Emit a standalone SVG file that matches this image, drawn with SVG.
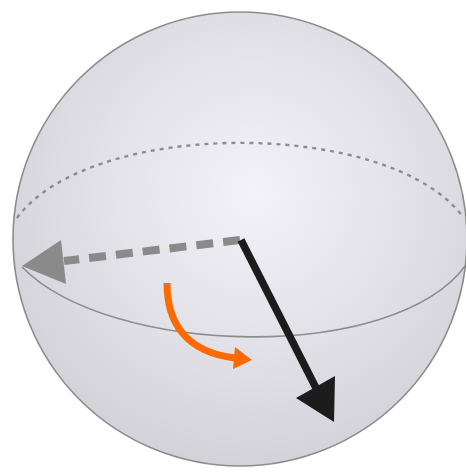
<svg xmlns="http://www.w3.org/2000/svg" width="466" height="474" viewBox="0 0 466 474">
  <defs>
    <radialGradient id="sphereFill" cx="0.53" cy="0.4" r="0.62">
      <stop offset="0" stop-color="#f3f2f8"/>
      <stop offset="0.55" stop-color="#e2e1e8"/>
      <stop offset="1" stop-color="#d2d1d8"/>
    </radialGradient>
  </defs>
  <style>
    .outline { fill: none; stroke: #8c8c8c; stroke-width: 1.6; }
    .back { fill: none; stroke: #8c8c8c; stroke-width: 2.4; stroke-dasharray: 4 5; }
    .grayShaft { fill: none; stroke: #8a8a8a; stroke-width: 8; stroke-dasharray: 17 10; }
    .grayHead { fill: #8a8a8a; }
    .blackShaft { fill: none; stroke: #1c1c1c; stroke-width: 7.5; }
    .blackHead { fill: #1c1c1c; }
    .orangeShaft { fill: none; stroke: #ff6a00; stroke-width: 7; }
    .orangeHead { fill: #ff6a00; }
  </style>
  <rect width="466" height="474" fill="#ffffff"/>
  <g id="sphere">
    <circle cx="240" cy="239" r="227" fill="url(#sphereFill)"/>
  </g>
  <g id="equator">
    <path class="back" d="M17,218 C90,118 390,118 463,217"/>
    <path class="outline" d="M22,267 C110,357 394,364 466,265"/>
  </g>
  <g id="connectors">
    <g id="gray-arrow">
      <path class="grayShaft" d="M240,240 L64,261"/>
      <polygon class="grayHead" points="22,266 61,240 66,284"/>
    </g>
    <g id="black-arrow">
      <path class="blackShaft" d="M241,240 L316,388"/>
      <polygon class="blackHead" points="334,422 296,398 335,376"/>
    </g>
    <g id="orange-arrow">
      <path class="orangeShaft" d="M167,283 C167,322 185,352 235,358"/>
      <polygon class="orangeHead" points="252,360 233,369 235,347"/>
    </g>
  </g>
  <g id="sphere-outline">
    <circle class="outline" cx="240" cy="239" r="227"/>
  </g>
</svg>
